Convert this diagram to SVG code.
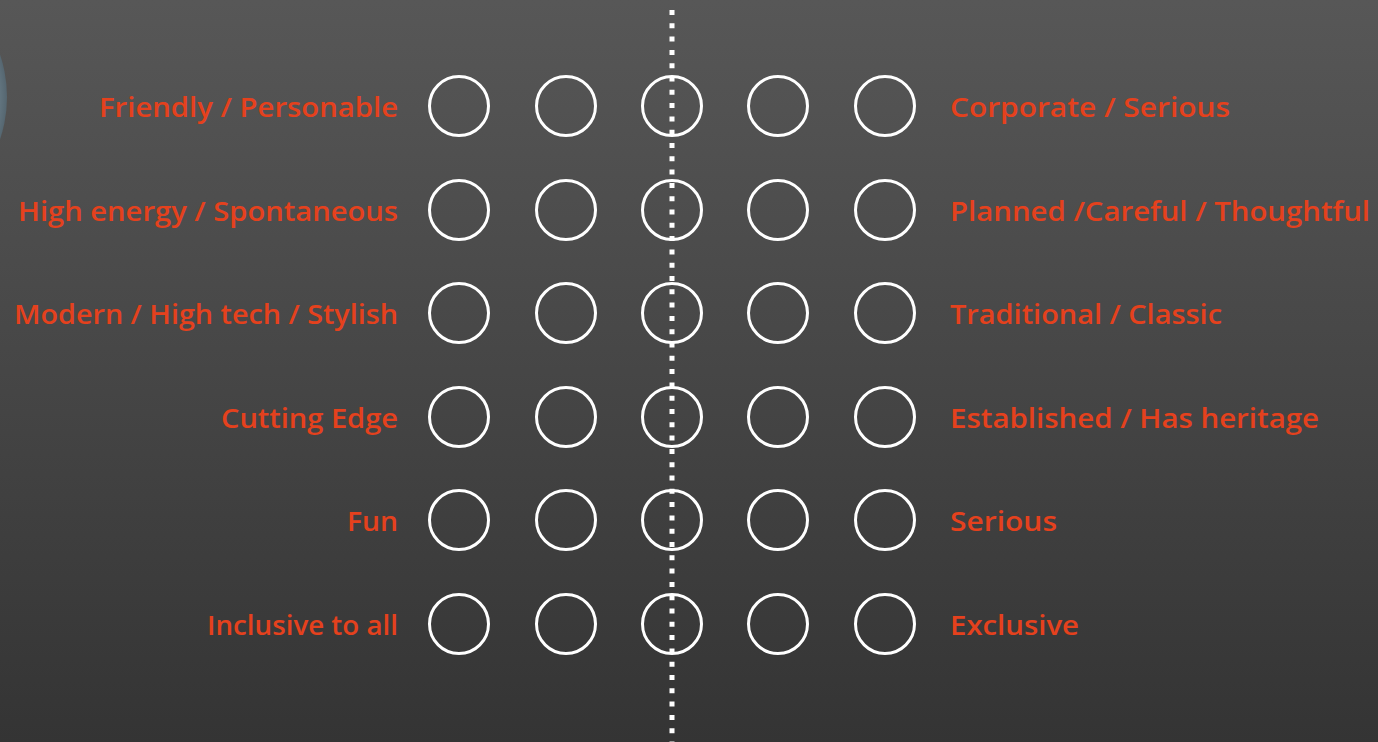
<svg xmlns="http://www.w3.org/2000/svg" width="1378" height="742" viewBox="0 0 1378 742">
<defs>
<linearGradient id="bg" x1="0" y1="0" x2="0" y2="1">
<stop offset="0" stop-color="#575757"/>
<stop offset="0.5" stop-color="#464646"/>
<stop offset="1" stop-color="#343434"/>
</linearGradient>
<radialGradient id="knob" cx="0.5" cy="0.5" r="0.5">
<stop offset="0.9" stop-color="#6d818c"/>
<stop offset="1" stop-color="#556670"/>
</radialGradient>
</defs>
<style>
.c{fill:none;stroke:#ffffff;stroke-width:3}
.l{font-family:"Open Sans","Liberation Sans",sans-serif;font-weight:600;font-size:27px;fill:#e5411d;text-anchor:end}
.r{font-family:"Open Sans","Liberation Sans",sans-serif;font-weight:600;font-size:27px;fill:#e5411d;text-anchor:start}
.dots{stroke:#ffffff;stroke-width:5;stroke-dasharray:5 8.3;fill:none}
</style>
<rect width="1378" height="742" fill="url(#bg)"/>
<circle cx="-125" cy="97" r="132" fill="url(#knob)"/>
<g id="connectors">
<line class="dots" x1="672" y1="10" x2="672" y2="742"/>
</g>
<g id="row1">
<text class="l" x="398" y="117" textLength="299" lengthAdjust="spacingAndGlyphs">Friendly / Personable</text>
<circle class="c" cx="459" cy="106" r="29.5"/><circle class="c" cx="566" cy="106" r="29.5"/><circle class="c" cx="672" cy="106" r="29.5"/><circle class="c" cx="778" cy="106" r="29.5"/><circle class="c" cx="885" cy="106" r="29.5"/>
<text class="r" x="950" y="117" textLength="280" lengthAdjust="spacingAndGlyphs">Corporate / Serious</text>
</g>
<g id="row2">
<text class="l" x="398" y="221" textLength="380" lengthAdjust="spacingAndGlyphs">High energy / Spontaneous</text>
<circle class="c" cx="459" cy="210" r="29.5"/><circle class="c" cx="566" cy="210" r="29.5"/><circle class="c" cx="672" cy="210" r="29.5"/><circle class="c" cx="778" cy="210" r="29.5"/><circle class="c" cx="885" cy="210" r="29.5"/>
<text class="r" x="950" y="221" textLength="420" lengthAdjust="spacingAndGlyphs">Planned /Careful / Thoughtful</text>
</g>
<g id="row3">
<text class="l" x="398" y="324" textLength="384" lengthAdjust="spacingAndGlyphs">Modern / High tech / Stylish</text>
<circle class="c" cx="459" cy="313" r="29.5"/><circle class="c" cx="566" cy="313" r="29.5"/><circle class="c" cx="672" cy="313" r="29.5"/><circle class="c" cx="778" cy="313" r="29.5"/><circle class="c" cx="885" cy="313" r="29.5"/>
<text class="r" x="950" y="324" textLength="272" lengthAdjust="spacingAndGlyphs">Traditional / Classic</text>
</g>
<g id="row4">
<text class="l" x="398" y="428" textLength="177" lengthAdjust="spacingAndGlyphs">Cutting Edge</text>
<circle class="c" cx="459" cy="417" r="29.5"/><circle class="c" cx="566" cy="417" r="29.5"/><circle class="c" cx="672" cy="417" r="29.5"/><circle class="c" cx="778" cy="417" r="29.5"/><circle class="c" cx="885" cy="417" r="29.5"/>
<text class="r" x="950" y="428" textLength="369" lengthAdjust="spacingAndGlyphs">Established / Has heritage</text>
</g>
<g id="row5">
<text class="l" x="398" y="531" textLength="51" lengthAdjust="spacingAndGlyphs">Fun</text>
<circle class="c" cx="459" cy="520" r="29.5"/><circle class="c" cx="566" cy="520" r="29.5"/><circle class="c" cx="672" cy="520" r="29.5"/><circle class="c" cx="778" cy="520" r="29.5"/><circle class="c" cx="885" cy="520" r="29.5"/>
<text class="r" x="950" y="531" textLength="107" lengthAdjust="spacingAndGlyphs">Serious</text>
</g>
<g id="row6">
<text class="l" x="398" y="635" textLength="191" lengthAdjust="spacingAndGlyphs">Inclusive to all</text>
<circle class="c" cx="459" cy="624" r="29.5"/><circle class="c" cx="566" cy="624" r="29.5"/><circle class="c" cx="672" cy="624" r="29.5"/><circle class="c" cx="778" cy="624" r="29.5"/><circle class="c" cx="885" cy="624" r="29.5"/>
<text class="r" x="950" y="635" textLength="129" lengthAdjust="spacingAndGlyphs">Exclusive</text>
</g>
</svg>
